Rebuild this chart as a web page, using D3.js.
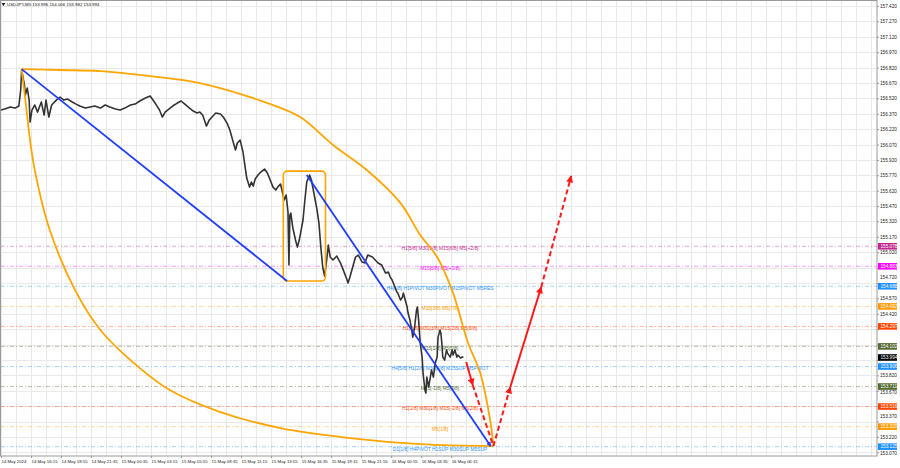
<!DOCTYPE html>
<html><head><meta charset="utf-8">
<script src="https://cdn.jsdelivr.net/npm/d3@7"></script>
<style>
body{margin:0;background:#fff;}
svg{display:block;font-family:"Liberation Sans",Arial,sans-serif;}
</style>
</head><body>
<svg id="c" width="900" height="468"></svg>
<script>
// ---------- DATA ----------
const titleSymbol = "USDJPY,M5";
const titleOHLC = ["153.996", "154.006", "153.982", "153.994"];

// bar index (M5 bars from chart start) and close price
const bars = [0,4,10,15,19,21,22,25,26,28,30,31,33,36,39,43,46,48,51,54,59,63,67,71,76,80,84,90,95,100,
106,111,116,122,127,132,138,143,148,154,159,162,165,169,172,175,179,183,188,192,196,201,205,209,212,215,219,222,225,229,
234,237,241,244,247,250,252,255,258,260,262,265,267,269,271,274,277,281,284,287,290,293,295,298,300,302,304,306,307,308,
309,311,314,316,318,320,322,324,326,329,331,333,335,337,339,341,343,345,347,349,351,354,358,362,365,369,370,372,375,378,
381,385,388,391,396,399,402,406,410,413,415,417,420,422,423,426,428,429,431,433,434,436,438,439,441,443,444,445,446,447,
449,450,452,453,454,456,459,461,463,465,466,468,469,470,471,473,475,476,479,481,482,484,486,487,490,492,493];
const closes = [156.406,156.416,156.435,156.425,156.445,156.601,156.796,156.650,156.552,156.620,156.503,156.289,156.406,156.455,156.386,156.484,156.357,156.503,156.338,156.455,
156.503,156.533,156.503,156.513,156.484,156.464,156.445,156.425,156.435,156.445,156.425,156.455,156.435,156.416,156.406,156.425,156.455,156.464,156.494,156.523,
156.542,156.503,156.464,156.406,156.338,156.386,156.416,156.445,156.474,156.494,156.464,156.425,156.396,156.377,156.386,156.357,156.250,156.308,156.338,156.377,
156.367,156.338,156.279,156.211,156.113,156.016,156.084,156.113,155.997,155.870,155.743,155.655,155.704,155.665,155.733,155.772,155.802,155.831,155.792,155.724,
155.655,155.626,155.655,155.685,155.607,155.529,155.577,155.412,154.895,155.382,155.402,155.265,155.139,155.070,155.139,155.236,155.334,155.529,155.704,155.772,
155.724,155.626,155.529,155.431,155.304,155.070,154.876,154.788,154.924,155.090,154.973,154.944,154.983,154.915,154.846,154.749,154.720,154.778,154.876,154.973,
154.992,154.924,154.915,154.992,154.973,154.944,154.915,154.895,154.817,154.827,154.778,154.749,154.681,154.632,154.622,154.554,154.583,154.622,154.554,154.486,
154.427,154.359,154.261,154.193,154.291,154.456,154.486,154.388,154.261,154.135,153.998,153.842,153.677,153.647,153.803,153.706,153.872,153.803,153.940,153.998,
154.193,154.261,154.232,154.135,153.998,153.969,154.067,154.037,153.998,154.067,154.018,154.067,153.998,154.018,153.989,153.998,153.994];

const priceTicks = [157.420,157.270,157.120,156.970,156.820,156.670,156.520,156.370,156.220,156.070,155.920,155.770,155.620,155.470,155.320,155.170,155.020,154.870,154.720,154.570,154.420,154.270,154.120,153.970,153.820,153.670,153.520,153.370,153.220,153.070];

const timeLabels = ["14 May 2024","14 May 16:15","14 May 18:55","14 May 21:35","15 May 00:35","15 May 03:15","15 May 05:55","15 May 08:35","15 May 11:15","15 May 13:55","15 May 16:35","15 May 19:15","15 May 21:55","16 May 00:55","16 May 03:35","16 May 06:15"];
const timeLabelBars = [0,32,64,96,128,160,192,224,256,288,320,352,384,416,448,480];

// Murrey-math style levels
const levelPrices = [155.078,154.883,154.688,154.492,154.297,154.102,153.906,153.711,153.516,153.320,153.125];
const levelTexts = ["H1[5/8] M30[5/8] M15[6/8] M5[+2/8]","M15[5/8] M5[+1/8]","H4[6/8] H1PIVOT M30PIVOT M15PIVOT M5RES","M15[3/8] M5[7/8]","H1[3/8] M30[3/8] M15[2/8] M5[6/8]","M15[1/8] M5[5/8]","H4[5/8] H1[2/8] M30[2/8] M15SUP M5PIVOT","M15[-1/8] M5[3/8]","H1[1/8] M30[1/8] M15[-2/8] M5[2/8]","M5[1/8]","D1[1/8] H4PIVOT H1SUP M30SUP M5SUP"];
const lastPrice = 153.994;
const levelTextBar = 468;

// drawn objects (bar, price)
const arcUpperBars   = [22,63,106,159,212,284,319,354,390,426,447,465,482,498,511,522,525];
const arcUpperPrices = [156.805,156.796,156.786,156.737,156.669,156.474,156.338,156.065,155.821,155.499,155.188,154.973,154.622,154.135,153.842,153.355,153.131];
const arcLowerBars   = [22,26,31,36,52,79,106,138,180,234,298,372,447,525];
const arcLowerPrices = [156.805,156.503,156.113,155.821,155.236,154.651,154.262,153.969,153.677,153.462,153.306,153.209,153.150,153.131];
const boxBars = [301,346];
const boxPrices = [155.811,154.739];
const blueLineA = [[22,156.805],[305,154.739]];
const blueLineB = [[326,155.772],[522,153.131]];
const redPathBars   = [496,503,525,543,576,608];
const redPathPrices = [153.950,153.725,153.131,153.706,154.681,155.763];

// ---------- STYLES ----------
const levelColors = ["#c2268f","#ff00ff","#1e90ff","#ff9900","#ff4500","#556b2f","#1e90ff","#556b2f","#ff4500","#ff9900","#1e90ff"];
const redSegStyle = [{dash:null,arrow:true},{dash:"5,3",arrow:false},{dash:"5,3",arrow:true},{dash:null,arrow:true},{dash:"5,3",arrow:true}];

// ---------- CHART ----------
const svg = d3.select("#c");
const plot = {l:1, r:877, t:1, b:456};
const x = d3.scaleLinear().domain([0,934]).range([plot.l, plot.r]);
const y = d3.scaleLinear().domain([153.07,157.42]).range([452.3, 6]);

svg.append("rect").attr("width",900).attr("height",468).attr("fill","#fff");

const defs = svg.append("defs");
defs.append("clipPath").attr("id","clip").append("rect")
  .attr("x",plot.l).attr("y",plot.t).attr("width",plot.r-plot.l).attr("height",plot.b-plot.t);
defs.append("marker").attr("id","arrRed").attr("viewBox","0 0 10 10").attr("refX",9).attr("refY",5)
  .attr("markerWidth",8).attr("markerHeight",7).attr("markerUnits","userSpaceOnUse").attr("orient","auto")
  .append("path").attr("d","M0,0L10,5L0,10z").attr("fill","#ff1a1a");
defs.append("marker").attr("id","arrBlue").attr("viewBox","0 0 10 10").attr("refX",8).attr("refY",5)
  .attr("markerWidth",5).attr("markerHeight",5).attr("markerUnits","userSpaceOnUse").attr("orient","auto")
  .append("path").attr("d","M0,0L10,5L0,10z").attr("fill","#1f3cff");

const g = svg.append("g").attr("clip-path","url(#clip)");

// grid
g.append("g").selectAll("line").data(priceTicks).join("line")
  .attr("x1",plot.l).attr("x2",plot.r).attr("y1",d=>Math.round(y(d))+0.5).attr("y2",d=>Math.round(y(d))+0.5)
  .attr("stroke","#e9e9e9").attr("stroke-width",1);
g.append("g").selectAll("line").data(d3.range(0,934,16)).join("line")
  .attr("y1",plot.t).attr("y2",plot.b).attr("x1",d=>Math.round(x(d))+0.5).attr("x2",d=>Math.round(x(d))+0.5)
  .attr("stroke","#e9e9e9").attr("stroke-width",1);

// level lines
g.append("g").selectAll("line").data(levelPrices).join("line")
  .attr("x1",plot.l).attr("x2",plot.r).attr("y1",d=>y(d)).attr("y2",d=>y(d))
  .attr("stroke",(d,i)=>levelColors[i]).attr("stroke-opacity",0.4).attr("stroke-width",1)
  .attr("stroke-dasharray","4,2,1,2");

// level texts
g.append("g").selectAll("text").data(levelPrices).join("text")
  .attr("x",x(levelTextBar)).attr("y",d=>y(d)+2.6)
  .attr("text-anchor","middle").attr("dominant-baseline","middle")
  .attr("font-size",4.9).attr("fill",(d,i)=>levelColors[i])
  .text((d,i)=>levelTexts[i]);

// price line
const series = bars.map((b,i)=>[b,closes[i]]);
g.append("path").datum(series)
  .attr("d",d3.line().x(d=>x(d[0])).y(d=>y(d[1])))
  .attr("fill","none").attr("stroke","#333").attr("stroke-width",1.6).attr("stroke-linejoin","round");

// orange arcs
const arcLine = d3.line().x(d=>x(d[0])).y(d=>y(d[1])).curve(d3.curveCatmullRom.alpha(0.5));
g.append("path").datum(arcUpperBars.map((b,i)=>[b,arcUpperPrices[i]]))
  .attr("d",arcLine).attr("fill","none").attr("stroke","#ffa500").attr("stroke-width",1.8);
g.append("path").datum(arcLowerBars.map((b,i)=>[b,arcLowerPrices[i]]))
  .attr("d",arcLine).attr("fill","none").attr("stroke","#ffa500").attr("stroke-width",1.8);

// orange box
g.append("rect").attr("x",x(boxBars[0])).attr("y",y(boxPrices[0]))
  .attr("width",x(boxBars[1])-x(boxBars[0])).attr("height",y(boxPrices[1])-y(boxPrices[0]))
  .attr("rx",4).attr("fill","none").attr("stroke","#ffa500").attr("stroke-width",1.6);

// blue lines
[blueLineA, blueLineB].forEach((L,k)=>{
  g.append("line").attr("x1",x(L[0][0])).attr("y1",y(L[0][1])).attr("x2",x(L[1][0])).attr("y2",y(L[1][1]))
   .attr("stroke","#1f3cff").attr("stroke-width",1.8)
   .attr("marker-end",k===1?"url(#arrBlue)":null);
});

// red projection path
for(let i=0;i<redPathBars.length-1;i++){
  const s = redSegStyle[i];
  g.append("line").attr("x1",x(redPathBars[i])).attr("y1",y(redPathPrices[i]))
   .attr("x2",x(redPathBars[i+1])).attr("y2",y(redPathPrices[i+1]))
   .attr("stroke","#ff1a1a").attr("stroke-width",2)
   .attr("stroke-dasharray",s.dash).attr("marker-end",s.arrow?"url(#arrRed)":null);
}

// frame
svg.append("rect").attr("x",0.5).attr("y",0.5).attr("width",plot.r-0.5).attr("height",plot.b-0.5)
  .attr("fill","none").attr("stroke","#9a9a9a").attr("stroke-width",1);

// price axis (labels hidden where a level box fully covers them; nudged when partly covered)
const boxes = levelPrices.map((p,i)=>({p, c:levelColors[i]})).concat([{p:lastPrice,c:"#000"}]);
const nearest = d => d3.least(boxes, b => Math.abs(y(b.p)-y(d)));
const covered = d => Math.abs(y(nearest(d).p)-y(d)) < 3;
const yAxis = d3.axisRight(y).tickValues(priceTicks).tickSize(2).tickPadding(1)
  .tickFormat(d => covered(d) ? "" : d3.format(".3f")(d));
const ya = svg.append("g").attr("transform",`translate(${plot.r},0)`).call(yAxis);
ya.select(".domain").remove();
ya.selectAll("line").attr("stroke","#9a9a9a");
ya.selectAll("text").attr("font-size",4.7).attr("fill","#222").attr("font-family","Liberation Sans, Arial")
  .attr("dy", d => {
    const dist = y(d) - y(nearest(d).p);
    if (Math.abs(dist) < 5.8) return (dist < 0 ? (dist - 5.8 + 0.32*4.7*0 ) - dist : 5.8 - dist) + 1.6 + "px";
    return "0.32em";
  });

// level boxes on axis
const lb = svg.append("g").selectAll("g").data(boxes).join("g")
  .attr("transform",d=>`translate(${plot.r+1},${y(d.p)})`);
lb.append("rect").attr("x",0).attr("y",-3.3).attr("width",19).attr("height",6.6).attr("fill",d=>d.c);
lb.append("text").attr("x",2.5).attr("y",0.2).attr("dominant-baseline","middle")
  .attr("font-size",4.7).attr("fill","#fff").text(d=>d3.format(".3f")(d.p));

// time axis
const xAxis = d3.axisBottom(x).tickValues(timeLabelBars).tickSize(2).tickPadding(2).tickFormat((d,i)=>timeLabels[i]);
const xa = svg.append("g").attr("transform",`translate(0,${plot.b})`).call(xAxis);
xa.select(".domain").remove();
xa.selectAll("line").attr("stroke","#9a9a9a");
xa.selectAll("text").attr("font-size",4.3).attr("fill","#222").attr("text-anchor","start")
  .attr("font-family","Liberation Sans, Arial");

// title
const t = svg.append("text").attr("x",7).attr("y",4.5).attr("dominant-baseline","middle")
  .attr("font-size",4.4).attr("fill","#111");
t.text(titleSymbol + "  " + titleOHLC.join(" "));
svg.append("path").attr("d",d3.symbol(d3.symbolTriangle,6)()).attr("transform","translate(3.5,4) rotate(180)").attr("fill","#222");
</script>
</body></html>
